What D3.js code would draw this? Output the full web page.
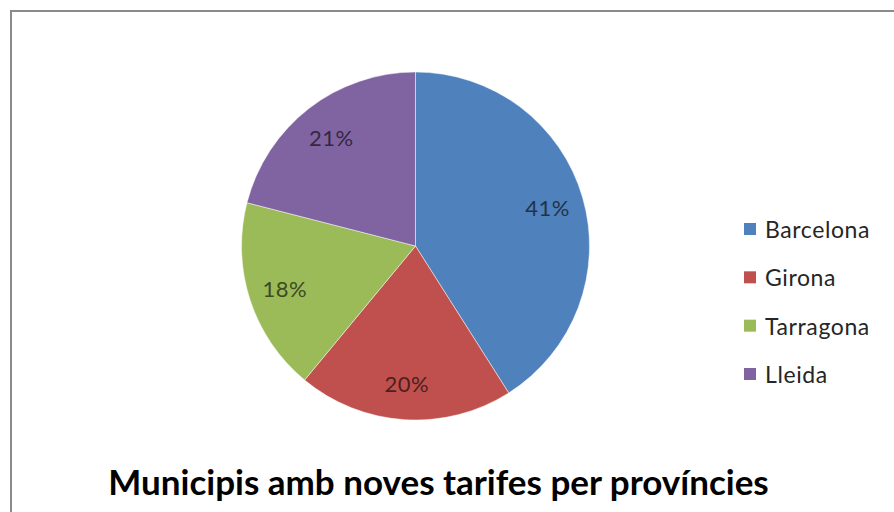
<!DOCTYPE html>
<html>
<head>
<meta charset="utf-8">
<script src="https://cdn.jsdelivr.net/npm/d3@7/dist/d3.min.js"></script>
<style>
  html, body { margin: 0; padding: 0; background: #fff; }
  svg { display: block; }
</style>
</head>
<body>
<svg id="chart" width="894" height="512"></svg>
<script>
const categories = ["Barcelona", "Girona", "Tarragona", "Lleida"];
const values = [41, 20, 18, 21];
const colors = ["#4F81BD", "#C0504D", "#9BBB59", "#8064A2"];
const title = "Municipis amb noves tarifes per províncies";

const svg = d3.select("#chart");
const W = 894, H = 512;

svg.append("rect").attr("x", 0).attr("y", 0).attr("width", W).attr("height", H).attr("fill", "#fff");
svg.append("line").attr("x1", 11).attr("x2", W).attr("y1", 11).attr("y2", 11)
  .attr("stroke", "#8a8a8a").attr("stroke-width", 2);
svg.append("line").attr("x1", 11).attr("x2", 11).attr("y1", 10).attr("y2", H)
  .attr("stroke", "#8a8a8a").attr("stroke-width", 2);

const cx = 415.5, cy = 246, R = 174;
const data = categories.map((c, i) => ({ name: c, value: values[i], color: colors[i] }));
const pie = d3.pie().sort(null).value(d => d.value);
const arc = d3.arc().innerRadius(0).outerRadius(R);
const labelArc = d3.arc().innerRadius(R * 0.79).outerRadius(R * 0.79);
const total = d3.sum(values);

const g = svg.append("g").attr("transform", `translate(${cx},${cy})`);
const arcs = pie(data);
g.selectAll("path").data(arcs).join("path")
  .attr("d", arc)
  .attr("fill", d => d.data.color)
  .attr("stroke", "#ffffff")
  .attr("stroke-opacity", 0.6)
  .attr("stroke-width", 0.8);

g.selectAll("text.lbl").data(arcs).join("text")
  .attr("class", "lbl")
  .attr("transform", d => `translate(${labelArc.centroid(d)})`)
  .attr("text-anchor", "middle")
  .attr("dominant-baseline", "central")
  .attr("font-family", "Lato, 'Open Sans', sans-serif")
  .attr("font-size", 22)
  .attr("letter-spacing", 0.5)
  .attr("fill", d => d3.color(d.data.color).darker(2.6))
  .text(d => Math.round(d.data.value / total * 100) + "%");

const legendY = d3.scalePoint().domain(categories).range([229, 374]);
const lg = svg.append("g");
categories.forEach((c, i) => {
  const y = legendY(c);
  lg.append("rect").attr("x", 744).attr("y", y - 6).attr("width", 12).attr("height", 12)
    .attr("fill", colors[i]);
  lg.append("text").attr("x", 765).attr("y", y)
    .attr("dominant-baseline", "central")
    .attr("font-family", "Lato, 'Open Sans', sans-serif")
    .attr("font-size", 23)
    .attr("letter-spacing", 0.6)
    .attr("fill", "#262626")
    .text(c);
});

svg.append("text")
  .attr("x", 438.5).attr("y", 495)
  .attr("text-anchor", "middle")
  .attr("font-family", "Lato, 'Open Sans', sans-serif")
  .attr("font-weight", "bold")
  .attr("font-size", 35)
  .attr("fill", "#000")
  .text(title);
</script>
</body>
</html>
